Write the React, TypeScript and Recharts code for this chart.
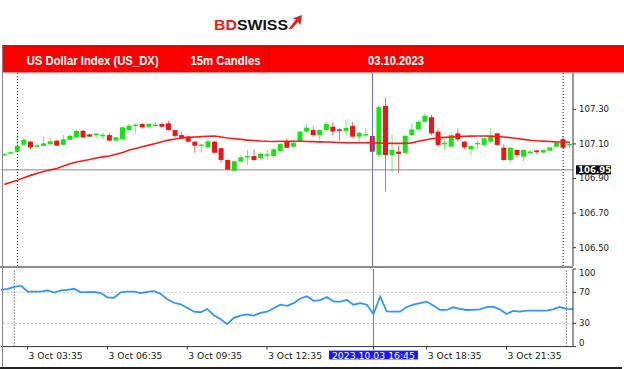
import { ComposedChart, LineChart, Bar, Line, XAxis, YAxis, ReferenceLine } from 'recharts'

// 15m candles, 3 Oct 2023
const times = [
  '02:45', '03:00', '03:15', '03:30', '03:45', '04:00', '04:15', '04:30', '04:45', '05:00',
  '05:15', '05:30', '05:45', '06:00', '06:15', '06:30', '06:45', '07:00', '07:15', '07:30',
  '07:45', '08:00', '08:15', '08:30', '08:45', '09:00', '09:15', '09:30', '09:45', '10:00',
  '10:15', '10:30', '10:45', '11:00', '11:15', '11:30', '11:45', '12:00', '12:15', '12:30',
  '12:45', '13:00', '13:15', '13:30', '13:45', '14:00', '14:15', '14:30', '14:45', '15:00',
  '15:15', '15:30', '15:45', '16:00', '16:15', '16:30', '16:45', '17:00', '17:15', '17:30',
  '17:45', '18:00', '18:15', '18:30', '18:45', '19:00', '19:15', '19:30', '19:45', '20:00',
  '20:15', '20:30', '20:45', '21:00', '21:15', '21:30', '21:45', '22:00', '22:15', '22:30',
  '22:45', '23:00', '23:15', '23:30', '23:45', '00:00', '00:15',
]

const opens = [
  107.035, 107.045, 107.055, 107.095, 107.113, 107.088, 107.088, 107.098, 107.119, 107.095,
  107.123, 107.138, 107.176, 107.155, 107.150, 107.148, 107.151, 107.119, 107.127, 107.180,
  107.205, 107.215, 107.199, 107.207, 107.215, 107.219, 107.180, 107.151, 107.142, 107.113,
  107.092, 107.080, 107.113, 107.075, 107.007, 106.945, 106.998, 107.022, 107.030, 107.017,
  107.034, 107.030, 107.059, 107.113, 107.084, 107.113, 107.171, 107.180, 107.151, 107.180,
  107.199, 107.184, 107.176, 107.203, 107.142, 107.152, 107.146, 107.036, 107.319, 107.036,
  107.055, 107.048, 107.151, 107.184, 107.228, 107.254, 107.171, 107.100, 107.084, 107.161,
  107.113, 107.069, 107.100, 107.094, 107.113, 107.161, 107.078, 107.007, 107.065, 107.026,
  107.052, 107.062, 107.050, 107.061, 107.084, 107.127, 107.095,
]
const highs = [
  107.046, 107.056, 107.157, 107.130, 107.118, 107.100, 107.142, 107.138, 107.122, 107.151,
  107.155, 107.180, 107.180, 107.158, 107.162, 107.165, 107.165, 107.140, 107.200, 107.219,
  107.219, 107.220, 107.222, 107.225, 107.222, 107.232, 107.182, 107.170, 107.145, 107.115,
  107.100, 107.132, 107.117, 107.080, 107.010, 107.005, 107.036, 107.065, 107.069, 107.050,
  107.065, 107.075, 107.105, 107.132, 107.110, 107.175, 107.213, 107.200, 107.185, 107.225,
  107.225, 107.190, 107.242, 107.228, 107.170, 107.190, 107.150, 107.325, 107.368, 107.155,
  107.090, 107.155, 107.219, 107.235, 107.280, 107.268, 107.190, 107.132, 107.161, 107.190,
  107.116, 107.092, 107.118, 107.135, 107.190, 107.165, 107.098, 107.080, 107.070, 107.070,
  107.068, 107.065, 107.068, 107.082, 107.110, 107.142, 107.113,
]
const lows = [
  107.030, 107.040, 107.046, 107.090, 107.068, 107.082, 107.085, 107.095, 107.088, 107.090,
  107.118, 107.135, 107.130, 107.140, 107.132, 107.130, 107.115, 107.115, 107.125, 107.170,
  107.161, 107.190, 107.195, 107.199, 107.195, 107.178, 107.138, 107.130, 107.110, 107.049,
  107.050, 107.078, 107.045, 106.990, 106.945, 106.938, 106.995, 106.978, 107.000, 107.012,
  107.007, 107.020, 107.055, 107.075, 107.080, 107.110, 107.168, 107.142, 107.103, 107.175,
  107.151, 107.117, 107.151, 107.138, 107.113, 107.132, 107.050, 107.020, 106.825, 106.935,
  106.930, 107.042, 107.146, 107.180, 107.225, 107.150, 107.084, 107.065, 107.080, 107.113,
  107.069, 107.036, 107.069, 107.090, 107.103, 107.090, 107.000, 106.995, 107.020, 107.000,
  107.038, 107.040, 107.047, 107.058, 107.080, 107.075, 107.075,
]
const closes = [
  107.042, 107.052, 107.088, 107.123, 107.080, 107.092, 107.103, 107.115, 107.090, 107.127,
  107.147, 107.175, 107.138, 107.142, 107.160, 107.153, 107.119, 107.138, 107.196, 107.205,
  107.212, 107.196, 107.215, 107.212, 107.199, 107.180, 107.146, 107.132, 107.113, 107.090,
  107.096, 107.115, 107.049, 107.007, 106.949, 107.000, 107.023, 107.030, 107.007, 107.042,
  107.040, 107.069, 107.099, 107.078, 107.107, 107.171, 107.194, 107.151, 107.180, 107.215,
  107.171, 107.176, 107.192, 107.142, 107.165, 107.157, 107.055, 107.312, 107.036, 107.065,
  107.042, 107.146, 107.184, 107.228, 107.263, 107.161, 107.094, 107.106, 107.151, 107.127,
  107.080, 107.088, 107.106, 107.132, 107.142, 107.094, 107.007, 107.078, 107.036, 107.065,
  107.056, 107.052, 107.065, 107.080, 107.107, 107.078, 107.100,
]

// moving average (red line)
const maValues = [
  106.866, 106.878, 106.89, 106.905, 106.918, 106.93, 106.94, 106.95, 106.958, 106.972,
  106.985, 106.995, 107.003, 107.01, 107.018, 107.025, 107.03, 107.04, 107.05, 107.065,
  107.073, 107.083, 107.093, 107.102, 107.112, 107.122, 107.128, 107.135, 107.138, 107.14,
  107.142, 107.144, 107.146, 107.14, 107.134, 107.13, 107.126, 107.122, 107.12, 107.117,
  107.115, 107.114, 107.115, 107.115, 107.115, 107.115, 107.114, 107.113, 107.112, 107.111,
  107.11, 107.108, 107.107, 107.107, 107.107, 107.107, 107.106, 107.105, 107.104, 107.103,
  107.103, 107.103, 107.106, 107.115, 107.123, 107.13, 107.135, 107.138, 107.14, 107.142,
  107.144, 107.145, 107.146, 107.146, 107.145, 107.143, 107.14, 107.136, 107.131, 107.126,
  107.121, 107.118, 107.116, 107.114, 107.112, 107.111, 107.11,
]

// RSI panel
const rsiValues = [
  73, 74.5, 77, 78.5, 71, 70.8, 70.8, 72.5, 69.5, 72.5,
  73, 74.5, 70, 70.3, 70.5, 69, 63.5, 63, 70, 70.8,
  70.8, 69, 70.5, 71.5, 68, 61, 56.5, 54.5, 50, 45,
  44.3, 48.5, 40.5, 35.5, 29, 37, 40, 41.5, 40, 43.5,
  45, 49.5, 54, 52.5, 56, 62, 65, 59, 60, 64,
  58, 58, 60, 54, 56, 54, 42, 64.5, 45.5, 45,
  45, 51, 54, 56, 58, 53, 47.2, 47.2, 50.7, 48.5,
  47.2, 47.5, 48, 51, 51.5, 48, 42, 46, 45, 46.3,
  46.3, 46.3, 46.3, 48, 51, 48.5, 48.4,
]

const priceTicks = [106.5, 106.7, 106.9, 107.1, 107.3]
const rsiTicks = [0, 30, 70, 100]
const timeTicks = ['03:45', '06:45', '09:45', '12:45', '16:45', '18:45', '21:45']
const timeTickLabels = ['3 Oct 03:35', '3 Oct 06:35', '3 Oct 09:35', '3 Oct 12:35', '2023.10.03 16:45', '3 Oct 18:35', '3 Oct 21:35']
const lastPrice = 106.95
const cursorTime = '16:45'
const dottedTimes = ['03:15', '00:00']

const data = times.map((time, i) => ({
  time,
  open: opens[i],
  high: highs[i],
  low: lows[i],
  close: closes[i],
  ma: maValues[i],
  rsi: rsiValues[i],
}))

const AXIS_FONT = '"DejaVu Sans", Verdana, sans-serif'
const GREEN = '#14e614'
const RED = '#f01414'

const Candle = (props: any) => {
  const { x, y, width, height, payload } = props
  const { open, close, high, low } = payload
  const up = close >= open
  const ratio = Math.abs(height) / (high - low)
  const top = Math.min(y, y + height)
  const yO = top + (high - open) * ratio
  const yC = top + (high - close) * ratio
  const cx = x + width / 2
  const bodyTop = Math.min(yO, yC)
  const bodyH = Math.max(Math.abs(yO - yC), 1.5)
  const color = up ? GREEN : RED
  return (
    <g>
      <line x1={cx} x2={cx} y1={top} y2={top + Math.abs(height)} stroke={color} strokeOpacity={0.65} strokeWidth={1} />
      <rect x={cx - 2.5} y={bodyTop} width={5} height={bodyH} fill={color} />
    </g>
  )
}

const PriceTick = ({ x, y, payload }: any) => (
  <text x={x} y={y + 3} fontSize={8.6} fontFamily={AXIS_FONT} fill="#1a1a1a">
    {Number(payload.value).toFixed(2)}
  </text>
)

const RsiTick = ({ x, y, payload }: any) => {
  const shift = payload.value === 100 ? 4 : payload.value === 0 ? -4 : 0
  return (
    <text x={x} y={y + 3 + shift} fontSize={8.6} fontFamily={AXIS_FONT} fill="#1a1a1a">
      {payload.value}
    </text>
  )
}

const TimeTick = ({ x, y, payload }: any) => {
  const label = timeTickLabels[timeTicks.indexOf(payload.value)]
  if (payload.value === cursorTime) {
    return (
      <g>
        <rect x={x - 44.5} y={y - 2} width={89} height={8.8} fill="#1818ff" />
        <text x={x} y={y + 6} textAnchor="middle" fontSize={8.6} fontFamily={AXIS_FONT} fill="#ffffff" textLength={83} lengthAdjust="spacingAndGlyphs">
          {label}
        </text>
      </g>
    )
  }
  return (
    <text x={x + 1} y={y + 6} fontSize={8.6} fontFamily={AXIS_FONT} fill="#1a1a1a" textLength={54} lengthAdjust="spacingAndGlyphs">
      {label}
    </text>
  )
}

const LastPriceLabel = ({ viewBox }: any) => {
  const { x, y, width } = viewBox
  return (
    <g>
      <rect x={x + width + 3} y={y - 4.5} width={35} height={9} fill="#000" />
      <text x={x + width + 5} y={y + 3} fontSize={8.6} fontFamily={AXIS_FONT} fill="#fff" fontWeight="bold">
        {lastPrice.toFixed(2)}
      </text>
    </g>
  )
}

export default function App() {
  return (
    <div style={{ position: 'absolute', left: 0, top: 0, width: 624, height: 369, background: '#fff', overflow: 'hidden' }}>
      {/* logo + red title bar */}
      <svg width={624} height={73} style={{ position: 'absolute', left: 0, top: 0 }}>
        <text x={214} y={29.5} fontSize={15.5} fontWeight="bold" fontFamily='"Liberation Sans", Arial, sans-serif' textLength={74} lengthAdjust="spacingAndGlyphs">
          <tspan fill="#e2231a">BD</tspan>
          <tspan fill="#111">SWISS</tspan>
        </text>
        <polygon points="288.5,29 296,19.5 292.5,18.5 302,15 300.5,25 298,22 291.5,29" fill="#e2231a" />
        <rect x={2} y={45.5} width={622} height={27} fill="#fc0000" />
        <line x1={2} x2={624} y1={45.8} y2={45.8} stroke="#a00000" strokeWidth={1} />
        <line x1={183} x2={183} y1={46} y2={72} stroke="#d20000" />
        <line x1={269} x2={269} y1={46} y2={72} stroke="#d20000" />
        <g fill="#fff" fontWeight="bold" fontSize={13} fontFamily='"Liberation Sans", Arial, sans-serif' textAnchor="middle">
          <text x={92.7} y={65} textLength={132} lengthAdjust="spacingAndGlyphs">US Dollar Index (US_DX)</text>
          <text x={225.5} y={65} textLength={70} lengthAdjust="spacingAndGlyphs">15m Candles</text>
          <text x={396} y={65} textLength={56} lengthAdjust="spacingAndGlyphs">03.10.2023</text>
        </g>
      </svg>

      {/* price panel */}
      <div style={{ position: 'absolute', left: 0, top: 73 }}>
        <ComposedChart width={624} height={193} data={data} margin={{ top: 0, right: 0, bottom: 0, left: 1 }}>
          <XAxis dataKey="time" hide />
          <YAxis
            orientation="right"
            width={51}
            domain={[106.394, 107.51]}
            allowDataOverflow
            ticks={priceTicks}
            interval={0}
            axisLine={{ stroke: '#333' }}
            tickLine={{ stroke: '#333' }}
            tickSize={3}
            tickMargin={3}
            tick={<PriceTick />}
          />
          <ReferenceLine y={lastPrice} stroke="#8a8a8a" strokeWidth={1} label={<LastPriceLabel />} />
          {dottedTimes.map((t) => (
            <ReferenceLine key={t} x={t} stroke="#222" strokeDasharray="1 2" />
          ))}
          <ReferenceLine x={cursorTime} stroke="#6a6aff" strokeWidth={1} />
          <Bar dataKey={(d: any) => [d.low, d.high]} shape={<Candle />} isAnimationActive={false} />
          <Line dataKey="ma" stroke="#ff1a1a" strokeWidth={1.6} dot={false} type="linear" isAnimationActive={false} />
        </ComposedChart>
      </div>

      {/* panel separator */}
      <div style={{ position: 'absolute', left: 0, top: 265.5, width: 573, height: 2, background: '#8c8c8c' }} />

      {/* RSI panel */}
      <div style={{ position: 'absolute', left: 0, top: 266 }}>
        <LineChart width={624} height={100} data={data} margin={{ top: 3, right: 0, bottom: 0, left: 1 }}>
          <XAxis
            dataKey="time"
            height={19.4}
            ticks={timeTicks}
            interval={0}
            axisLine={{ stroke: '#333' }}
            tickLine={{ stroke: '#333' }}
            tickSize={3}
            tickMargin={3}
            tick={<TimeTick />}
          />
          <YAxis
            orientation="right"
            width={51}
            domain={[0, 100]}
            ticks={rsiTicks}
            interval={0}
            axisLine={{ stroke: '#333' }}
            tickLine={{ stroke: '#333' }}
            tickSize={3}
            tickMargin={3}
            tick={<RsiTick />}
          />
          <ReferenceLine y={70} stroke="#c4c4c4" strokeDasharray="2 2" />
          <ReferenceLine y={30} stroke="#c4c4c4" strokeDasharray="2 2" />
          {dottedTimes.map((t) => (
            <ReferenceLine key={t} x={t} stroke="#222" strokeDasharray="1 2" />
          ))}
          <ReferenceLine x={cursorTime} stroke="#6a6aff" strokeWidth={1} />
          <Line dataKey="rsi" stroke="#2f96ff" strokeWidth={1.8} dot={false} type="linear" isAnimationActive={false} />
        </LineChart>
      </div>

      {/* frame */}
      <div style={{ position: 'absolute', left: 2, top: 46, width: 1, height: 322, background: '#888' }} />
      <div style={{ position: 'absolute', left: 0, top: 367, width: 622, height: 1.5, background: '#222' }} />
    </div>
  )
}
